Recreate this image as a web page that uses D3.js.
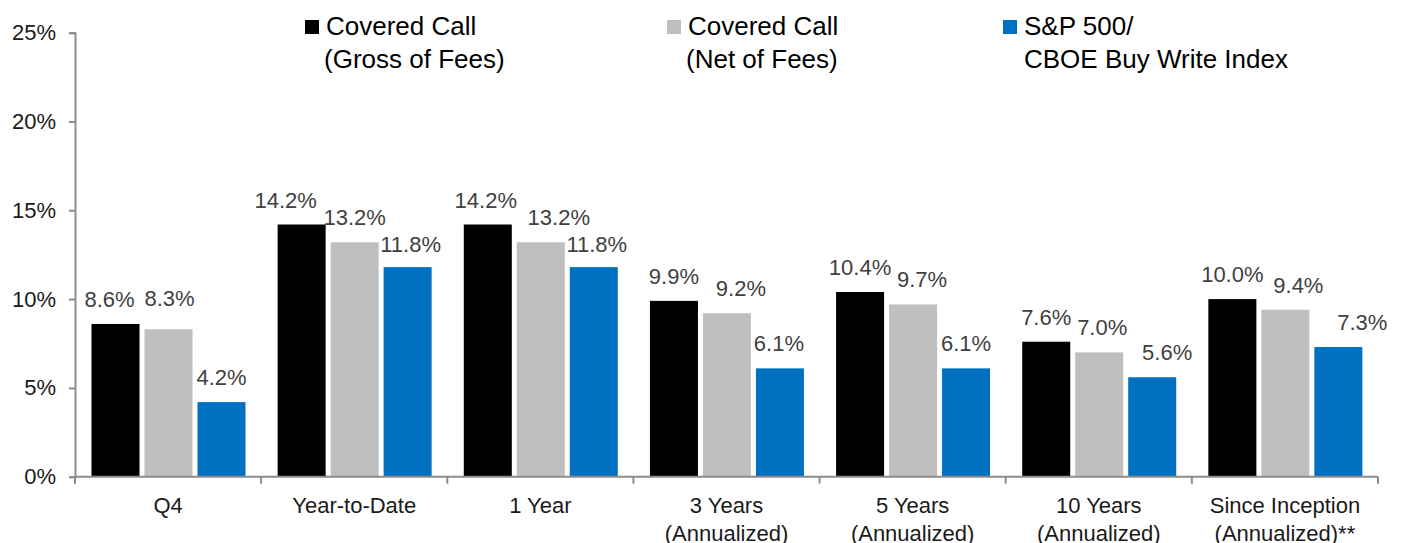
<!DOCTYPE html>
<html>
<head>
<meta charset="utf-8">
<script src="https://cdn.jsdelivr.net/npm/d3@7"></script>
<style>
  body { margin: 0; background: #fff; }
  svg { display: block; font-family: "Liberation Sans", Arial, sans-serif; }
</style>
</head>
<body>
<div id="chartdiv"></div>
<script>
// categories (second line in brackets goes on a new row)
var categories = ["Q4", "Year-to-Date", "1 Year", "3 Years", "5 Years", "10 Years", "Since Inception"];
var categorySub = ["", "", "", "(Annualized)", "(Annualized)", "(Annualized)", "(Annualized)**"];

var seriesNames = ["gross", "net", "index"];
var gross = [8.6, 14.2, 14.2, 9.9, 10.4, 7.6, 10.0];
var net = [8.3, 13.2, 13.2, 9.2, 9.7, 7.0, 9.4];
var bxm = [4.2, 11.8, 11.8, 6.1, 6.1, 5.6, 7.3];

var yTicks = [0, 5, 10, 15, 20, 25];

var legendLine1 = ["Covered Call", "Covered Call", "S&P 500/"];
var legendLine2 = ["(Gross of Fees)", "(Net of Fees)", "CBOE Buy Write Index"];

var colors = ["#000000", "#bfbfbf", "#0070c0"];

// excel moved some data labels sideways so they don't collide; same nudges here (px)
var labelDx = [
    [-6, 1, 0],
    [-16, 0, 3],
    [-2, 18, 3],
    [0, 14, -1],
    [0, 9, 0],
    [0, 3, 15],
    [0, 13, 24]
];
var labelDy = [
    [0, -6, 0],
    [0, 0, 2],
    [0, 0, 2],
    [0, 0, 0],
    [0, 0, 0],
    [0, 0, 0],
    [0, 0, 0]
];

function draw() {
    var W = 1401, H = 543;
    var left = 75, right = 1378, top = 32.7, bottom = 476.7;

    var svg = d3.select("#chartdiv").append("svg")
        .attr("width", W)
        .attr("height", H);

    var rows = categories.map(function(c, i) {
        return {cat: c, sub: categorySub[i], vals: [gross[i], net[i], bxm[i]], i: i};
    });

    var x0 = d3.scaleBand()
        .domain(categories)
        .range([left, right])
        .padding(0);

    var x1 = d3.scaleBand()
        .domain(seriesNames)
        .range([16.5, 170.5])
        .paddingInner(0.094)
        .paddingOuter(0);

    var y = d3.scaleLinear()
        .domain([0, 25])
        .range([bottom, top]);

    // y axis
    var yAxis = d3.axisLeft(y)
        .tickValues(yTicks)
        .tickSize(6)
        .tickPadding(13)
        .tickFormat(function(d) { return d + "%"; });

    var gy = svg.append("g")
        .attr("transform", "translate(" + left + ",0)")
        .call(yAxis);
    gy.select(".domain").attr("stroke", "#8c8c8c").attr("stroke-width", 2);
    gy.selectAll(".tick line").attr("stroke", "#8c8c8c").attr("stroke-width", 2);
    gy.selectAll(".tick text")
        .attr("font-size", 22)
        .attr("fill", "#1a1a1a")
        .attr("font-family", "Liberation Sans, Arial, sans-serif");

    // bars
    var groups = svg.append("g").selectAll("g")
        .data(rows)
        .enter().append("g")
        .attr("transform", function(d) { return "translate(" + x0(d.cat) + ",0)"; });

    groups.selectAll("rect")
        .data(function(d) { return d.vals.map(function(v, k) { return {v: v, k: k}; }); })
        .enter().append("rect")
        .attr("x", function(d) { return x1(seriesNames[d.k]); })
        .attr("y", function(d) { return y(d.v); })
        .attr("width", x1.bandwidth())
        .attr("height", function(d) { return y(0) - y(d.v); })
        .attr("fill", function(d) { return colors[d.k]; });

    // data labels
    groups.selectAll("text")
        .data(function(d) { return d.vals.map(function(v, k) { return {v: v, k: k, i: d.i}; }); })
        .enter().append("text")
        .attr("x", function(d) { return x1(seriesNames[d.k]) + x1.bandwidth() / 2 + labelDx[d.i][d.k]; })
        .attr("y", function(d) { return y(d.v) - 17 + labelDy[d.i][d.k]; })
        .attr("text-anchor", "middle")
        .attr("font-size", 22)
        .attr("fill", "#404040")
        .text(function(d) { return d.v.toFixed(1) + "%"; });

    // x axis
    var gx = svg.append("g");
    gx.append("line")
        .attr("x1", left).attr("x2", right)
        .attr("y1", y(0)).attr("y2", y(0))
        .attr("stroke", "#8c8c8c").attr("stroke-width", 2);

    var bounds = categories.map(function(c) { return x0(c); }).concat([right]);
    gx.selectAll(".xt")
        .data(bounds)
        .enter().append("line")
        .attr("class", "xt")
        .attr("x1", function(d) { return d; })
        .attr("x2", function(d) { return d; })
        .attr("y1", y(0))
        .attr("y2", y(0) + 7)
        .attr("stroke", "#8c8c8c").attr("stroke-width", 2);

    var cl = gx.selectAll(".cat")
        .data(rows)
        .enter().append("text")
        .attr("class", "cat")
        .attr("text-anchor", "middle")
        .attr("font-size", 22)
        .attr("fill", "#1a1a1a")
        .attr("x", function(d) { return x0(d.cat) + x0.bandwidth() / 2; })
        .attr("y", 513);
    cl.append("tspan").text(function(d) { return d.cat; });
    cl.append("tspan")
        .attr("x", function(d) { return x0(d.cat) + x0.bandwidth() / 2; })
        .attr("dy", 28)
        .text(function(d) { return d.sub; });

    // legend
    var legX = [305, 667, 1003];
    var leg = svg.append("g").selectAll("g")
        .data(seriesNames)
        .enter().append("g")
        .attr("transform", function(d, i) { return "translate(" + legX[i] + ",0)"; });

    leg.append("rect")
        .attr("x", 0).attr("y", 20)
        .attr("width", 14).attr("height", 14)
        .attr("fill", function(d, i) { return colors[i]; });

    var lt = leg.append("text")
        .attr("font-size", 26)
        .attr("fill", "#000");
    lt.append("tspan")
        .attr("x", 21).attr("y", 35)
        .text(function(d, i) { return legendLine1[i]; });
    lt.append("tspan")
        .attr("x", function(d, i) { return i == 2 ? 21 : 19; }).attr("y", 68)
        .text(function(d, i) { return legendLine2[i]; });
}

draw();
</script>
</body>
</html>
